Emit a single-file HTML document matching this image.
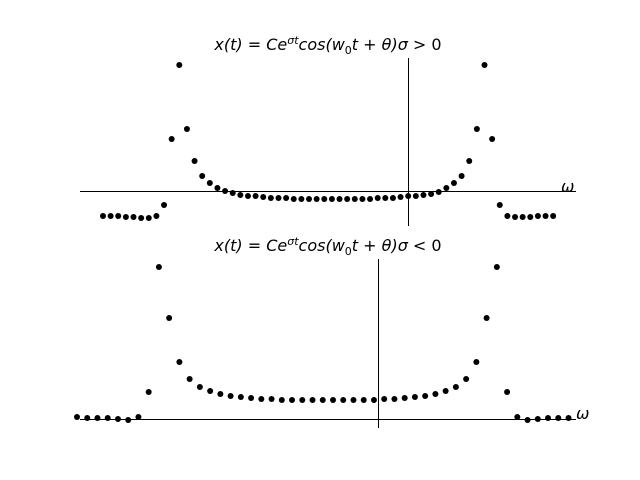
<!DOCTYPE html>
<html><head><meta charset="utf-8"><style>
body{margin:0;background:#fff;}
svg{display:block;}
.t{font-family:"DejaVu Sans","Liberation Sans",sans-serif;font-size:16px;font-style:italic;fill:#000;}
.n{font-style:normal;}
</style></head><body>
<svg id="chart" width="640" height="480" xmlns="http://www.w3.org/2000/svg">
<text class="t" x="328" y="50" text-anchor="middle">x(<tspan>t</tspan>)<tspan class="n"> = </tspan>Ce<tspan dy="-6" font-size="11">σt</tspan><tspan dy="6">cos(w</tspan><tspan dy="4" font-size="11" class="n">0</tspan><tspan dy="-4">t</tspan><tspan class="n"> + </tspan>θ)σ<tspan class="n"> &gt; 0</tspan></text>
<text class="t" x="328" y="251" text-anchor="middle">x(<tspan>t</tspan>)<tspan class="n"> = </tspan>Ce<tspan dy="-6" font-size="11">σt</tspan><tspan dy="6">cos(w</tspan><tspan dy="4" font-size="11" class="n">0</tspan><tspan dy="-4">t</tspan><tspan class="n"> + </tspan>θ)σ<tspan class="n"> &lt; 0</tspan></text>
<g shape-rendering="crispEdges">
<line x1="80" y1="191.5" x2="576" y2="191.5" stroke="#000" stroke-width="1"/>
<line x1="408.5" y1="58" x2="408.5" y2="226" stroke="#000" stroke-width="1"/>
<line x1="80" y1="419.5" x2="576" y2="419.5" stroke="#000" stroke-width="1"/>
<line x1="378.5" y1="259" x2="378.5" y2="428" stroke="#000" stroke-width="1"/>
</g>
<text class="t" x="561" y="192" font-size="20">ω</text>
<text class="t" x="576" y="419" font-size="20">ω</text>
<g id="topPts"></g>
<g id="botPts"></g>
</svg>
<script>
// values: height above axis in pixel-like units (positive = up)
const topValues = [-25,-25,-25,-26,-26,-27,-27,-25,-14,52,126,62,30,15,8,3,0,-2,-4,-5,-5,-6,-7,-7,-7,-8,-8,-8,-8,-8,-8,-8,-8,-8,-8,-8,-7,-7,-7,-6,-5,-5,-4,-3,-1,3,8,15,30,62,126,52,-14,-25,-26,-26,-26,-25,-25,-25];
const bottomValues = [2,1,1,1,0,-1,2,27,152,101,57,40,32,28,25,23,22,21,20,20,19,19,19,19,19,19,19,19,19,19,20,20,21,22,23,25,28,32,40,57,101,152,27,2,-1,0,1,1,1];
function topX(i){return 103+i*7.63;}
function topY(v){return 191-v;}
function botX(i){return 77+i*10.24;}
function botY(v){return 419-v;}
const ns="http://www.w3.org/2000/svg";
const tg=document.getElementById('topPts');
topValues.forEach((v,i)=>{
  const c=document.createElementNS(ns,'circle');
  c.setAttribute('cx',topX(i));c.setAttribute('cy',topY(v));c.setAttribute('r',3);c.setAttribute('fill','#000');
  
  
  tg.appendChild(c);
});
const bg=document.getElementById('botPts');
bottomValues.forEach((v,i)=>{
  const c=document.createElementNS(ns,'circle');
  c.setAttribute('cx',botX(i));c.setAttribute('cy',botY(v));c.setAttribute('r',3);c.setAttribute('fill','#000');
  
  
  bg.appendChild(c);
});
</script>
</body></html>
